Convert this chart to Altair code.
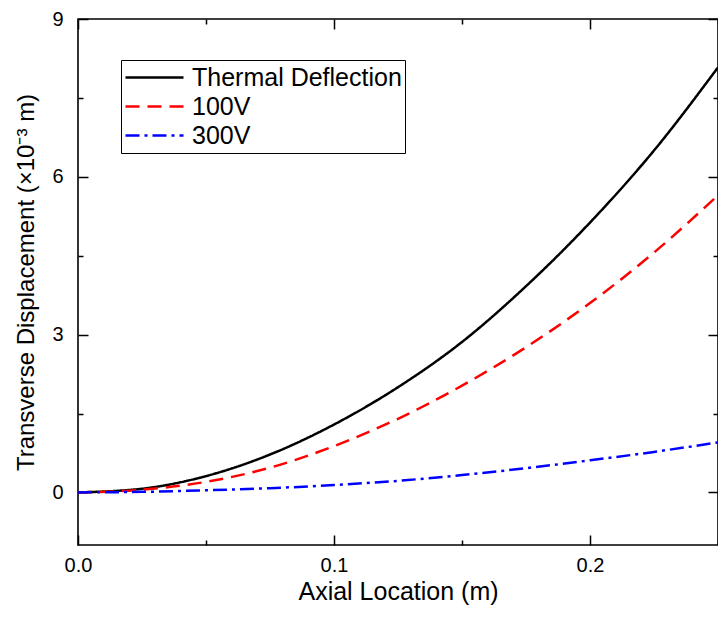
import altair as alt
import pandas as pd

# Data
x_vals = [0.0, 0.025, 0.05, 0.075, 0.1, 0.125, 0.15, 0.175, 0.2, 0.225, 0.25]
thermal = [0.0, 0.07, 0.31, 0.72, 1.29, 2.00, 2.86, 3.92, 5.13, 6.50, 8.08]
v100 = [0.0, 0.05, 0.20, 0.47, 0.88, 1.40, 2.03, 2.76, 3.60, 4.56, 5.65]
v300 = [0.0, 0.01, 0.04, 0.08, 0.14, 0.22, 0.33, 0.46, 0.61, 0.77, 0.95]
series = ["Thermal Deflection", "100V", "300V"]
colors = ["#000000", "#ff0000", "#0000ff"]
dashes = [[1, 0], [14, 8], [14, 5, 3, 5]]

x_major = [0.0, 0.1, 0.2]
x_minor = [0.05, 0.15, 0.25]
y_major = [0, 3, 6, 9]
y_minor = [1.5, 4.5, 7.5]

rows = []
for name, ys in zip(series, [thermal, v100, v300]):
    for xv, yv in zip(x_vals, ys):
        rows.append({"x": xv, "y": yv, "series": name})
df = pd.DataFrame(rows)

W, H = 640, 526
FONT = "Liberation Sans"

xs = alt.Scale(domain=[0, 0.25], nice=False, zero=False)
ysc = alt.Scale(domain=[-1, 9], nice=False)

leg = alt.Legend(
    title=None, orient="none", legendX=43, legendY=41,
    symbolType="stroke", symbolSize=3364, symbolStrokeWidth=2.5, clipHeight=29,
    labelFontSize=25, labelFont=FONT, labelColor="black", labelOffset=7, labelLimit=0,
    strokeColor="black", fillColor="white", padding=3, rowPadding=0,
)

lines = alt.Chart(df).mark_line(strokeWidth=2.5, interpolate="monotone", clip=True).encode(
    x=alt.X("x:Q", scale=xs, axis=alt.Axis(
        title="Axial Location (m)", values=x_major, format=".1f", ticks=False, domain=False,
        grid=False, labelFontSize=20, labelFont=FONT, labelColor="black", labelPadding=10,
        labelFlush=False,
        titleFontSize=25, titleFont=FONT, titleFontWeight="normal", titleColor="black", titlePadding=4)),
    y=alt.Y("y:Q", scale=ysc, axis=alt.Axis(
        title="Transverse Displacement (×10⁻³ m)", values=y_major, format="d", ticks=False, domain=False,
        grid=False, labelFontSize=20, labelFont=FONT, labelColor="black", labelPadding=15,
        labelFlush=False,
        titleFontSize=24, titleFont=FONT, titleFontWeight="normal", titleColor="black", titlePadding=13)),
    color=alt.Color("series:N", scale=alt.Scale(domain=series, range=colors), legend=leg),
    strokeDash=alt.StrokeDash("series:N", scale=alt.Scale(domain=series, range=dashes), legend=leg),
    order=alt.Order("x:Q"),
)


def tick_layer(xv, yv, size, x_orient, y_orient):
    return alt.Chart(df).mark_point(opacity=0).encode(
        x=alt.X("x:Q", scale=xs, axis=alt.Axis(
            orient=x_orient, offset=-H, values=xv, labels=False, domain=False, grid=False,
            title=None, tickSize=size, tickWidth=1.5, tickColor="black")),
        y=alt.Y("y:Q", scale=ysc, axis=alt.Axis(
            orient=y_orient, offset=-W, values=yv, labels=False, domain=False, grid=False,
            title=None, tickSize=size, tickWidth=1.5, tickColor="black")),
    )


chart = alt.layer(
    lines,
    tick_layer(x_major, y_major, 10, "top", "right"),
    tick_layer(x_minor, y_minor, 5, "top", "right"),
    tick_layer(x_major, y_major, 10, "bottom", "left"),
    tick_layer(x_minor, y_minor, 5, "bottom", "left"),
).resolve_axis(x="independent", y="independent").properties(
    width=W, height=H,
    autosize=alt.AutoSizeParams(type="none"),
    padding={"left": 70, "top": 11, "right": 0, "bottom": 61},
    background="white",
).configure_view(stroke="black", strokeWidth=1.6)

chart.save("out.html", embed_options={"renderer": "svg", "actions": False})
